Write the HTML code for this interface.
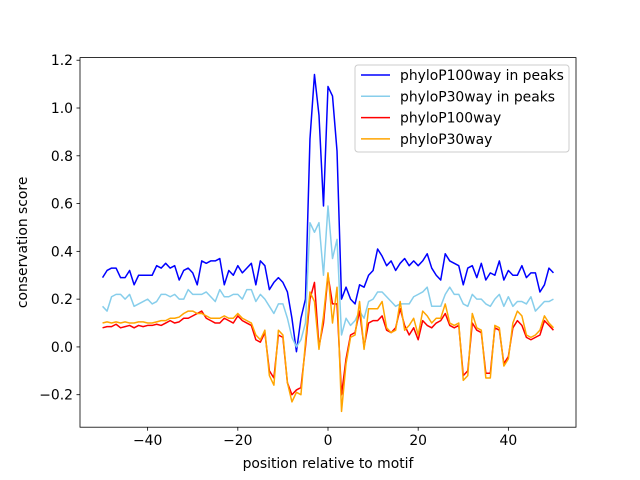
<!DOCTYPE html>
<html><head><meta charset="utf-8"><style>
body{margin:0;background:#fff}
svg{display:block;font-family:"DejaVu Sans","Liberation Sans",sans-serif}
</style></head><body>
<svg id="chart" width="640" height="480" xmlns="http://www.w3.org/2000/svg"></svg>
<script>
const positions = [];
for (let p = -50; p <= 50; p++) positions.push(p);
const p100peaks = [0.29,0.32,0.33,0.33,0.29,0.29,0.32,0.26,0.30,0.30,0.30,0.30,0.34,0.33,0.35,0.33,0.34,0.28,0.32,0.33,0.31,0.26,0.36,0.35,0.36,0.36,0.37,0.26,0.32,0.30,0.34,0.31,0.33,0.35,0.26,0.36,0.34,0.24,0.27,0.29,0.27,0.23,0.12,-0.02,0.12,0.20,0.87,1.14,0.97,0.59,1.09,1.05,0.82,0.20,0.25,0.20,0.18,0.26,0.25,0.30,0.32,0.41,0.38,0.34,0.36,0.32,0.35,0.37,0.34,0.36,0.34,0.36,0.39,0.33,0.30,0.28,0.39,0.36,0.35,0.34,0.26,0.33,0.34,0.29,0.35,0.28,0.31,0.30,0.36,0.28,0.32,0.30,0.30,0.34,0.29,0.31,0.31,0.23,0.26,0.33,0.31];
const p30peaks = [0.17,0.15,0.21,0.22,0.22,0.20,0.22,0.17,0.18,0.19,0.20,0.18,0.19,0.22,0.22,0.21,0.22,0.20,0.20,0.24,0.22,0.22,0.22,0.23,0.21,0.19,0.24,0.21,0.21,0.22,0.22,0.20,0.24,0.24,0.19,0.22,0.20,0.17,0.14,0.18,0.18,0.12,0.04,0.00,0.03,0.10,0.52,0.48,0.52,0.30,0.59,0.37,0.45,0.05,0.12,0.09,0.11,0.15,0.12,0.19,0.20,0.23,0.23,0.21,0.19,0.17,0.18,0.18,0.18,0.21,0.22,0.23,0.25,0.17,0.17,0.17,0.22,0.25,0.22,0.22,0.18,0.17,0.22,0.20,0.20,0.18,0.17,0.20,0.22,0.17,0.21,0.17,0.19,0.19,0.18,0.21,0.15,0.17,0.19,0.19,0.20];
const p100 = [0.08,0.085,0.085,0.095,0.08,0.085,0.09,0.08,0.09,0.085,0.09,0.09,0.095,0.09,0.10,0.11,0.10,0.105,0.12,0.12,0.13,0.14,0.15,0.12,0.11,0.10,0.10,0.12,0.11,0.10,0.13,0.11,0.10,0.09,0.03,0.02,0.06,-0.10,-0.13,0.05,0.04,-0.15,-0.20,-0.18,-0.17,0.00,0.20,0.27,0.00,0.10,0.30,0.18,0.18,-0.20,-0.05,0.05,0.06,0.15,0.00,0.10,0.11,0.11,0.13,0.07,0.06,0.08,0.16,0.09,0.05,0.08,0.03,0.11,0.09,0.08,0.10,0.11,0.14,0.09,0.08,0.09,-0.12,-0.10,0.10,0.07,0.06,-0.11,-0.11,0.08,0.07,-0.07,-0.04,0.08,0.11,0.09,0.04,0.03,0.04,0.05,0.11,0.09,0.07];
const p30 = [0.10,0.105,0.10,0.105,0.10,0.105,0.10,0.10,0.105,0.105,0.10,0.10,0.105,0.11,0.11,0.12,0.12,0.125,0.14,0.15,0.15,0.14,0.14,0.13,0.12,0.12,0.12,0.13,0.12,0.12,0.14,0.12,0.11,0.10,0.05,0.03,0.07,-0.12,-0.16,0.07,0.05,-0.15,-0.23,-0.19,-0.20,0.02,0.23,0.19,-0.01,0.13,0.31,0.10,0.25,-0.27,-0.07,0.04,0.05,0.19,-0.01,0.16,0.16,0.16,0.19,0.08,0.06,0.07,0.19,0.07,0.09,0.12,0.05,0.15,0.13,0.10,0.12,0.12,0.18,0.10,0.09,0.10,-0.14,-0.12,0.14,0.08,0.07,-0.13,-0.13,0.09,0.08,-0.08,-0.05,0.10,0.15,0.13,0.05,0.04,0.05,0.07,0.13,0.10,0.08];
const seriesNames = ["phyloP100way in peaks","phyloP30way in peaks","phyloP100way","phyloP30way"];
const seriesColors = ["#0000ff","#87ceeb","#ff0000","#ffa500"];
const seriesData = [p100peaks,p30peaks,p100,p30];
const xTicks = [-40,-20,0,20,40];
const yTicks = [-0.2,0.0,0.2,0.4,0.6,0.8,1.0,1.2];

const NS = "http://www.w3.org/2000/svg";
const svg = document.getElementById('chart');
const L=80,R=576,T=57.6,B=427.2;
const xmin=-55,xmax=55,ymin=-0.336,ymax=1.211;
const FS='13.9px';
const xs = v => L + (v-xmin)/(xmax-xmin)*(R-L);
const ys = v => B - (v-ymin)/(ymax-ymin)*(B-T);
function mk(tag, attrs, parent){const e=document.createElementNS(NS,tag);for(const k in attrs)e.setAttribute(k,attrs[k]);(parent||svg).appendChild(e);return e;}

const plot = mk('g',{});


seriesData.forEach((d,si)=>{
  const pts = d.map((v,i)=>xs(positions[i]).toFixed(2)+','+ys(v).toFixed(2)).join(' ');
  const pl = mk('polyline',{points:pts,fill:'none',stroke:seriesColors[si],'stroke-width':1.5,'stroke-linejoin':'round'},plot);
  
  
});

const frame = mk('rect',{x:L,y:T,width:R-L,height:B-T,fill:'none',stroke:'#000','stroke-width':0.8});



xTicks.forEach(t=>{
  const x=xs(t);
  mk('line',{x1:x,x2:x,y1:B,y2:B+3.5,stroke:'#000','stroke-width':0.8});
  const tx = mk('text',{x:x,y:B+18,'text-anchor':'middle','font-size':FS});
  tx.textContent = t<0 ? '\u2212'+Math.abs(t) : String(t);
  
  
});
yTicks.forEach(t=>{
  const y=ys(t);
  mk('line',{x1:L-3.5,x2:L,y1:y,y2:y,stroke:'#000','stroke-width':0.8});
  const tx = mk('text',{x:L-7,y:y+5,'text-anchor':'end','font-size':FS});
  tx.textContent = t<0 ? '\u2212'+Math.abs(t).toFixed(1) : t.toFixed(1);
  
  
});
const xt = mk('text',{x:(L+R)/2,y:468,'text-anchor':'middle','font-size':FS});
xt.textContent='position relative to motif';


const yt = mk('text',{x:0,y:0,'text-anchor':'middle','font-size':FS,transform:'translate(27,'+((T+B)/2)+') rotate(-90)'});
yt.textContent='conservation score';



const lg = mk('g',{});


mk('rect',{x:355,y:65,width:214,height:87,rx:3,fill:'#fff','fill-opacity':0.8,stroke:'#ccc','stroke-width':1},lg);
seriesNames.forEach((n,i)=>{
  const y=75+i*21.3;
  const g = mk('g',{},lg);
  
  
  mk('line',{x1:361,x2:390,y1:y,y2:y,stroke:seriesColors[i],'stroke-width':1.5},g);
  const t = mk('text',{x:400,y:y+5,'font-size':FS},g);
  t.textContent=n;
});
</script>
</body></html>
